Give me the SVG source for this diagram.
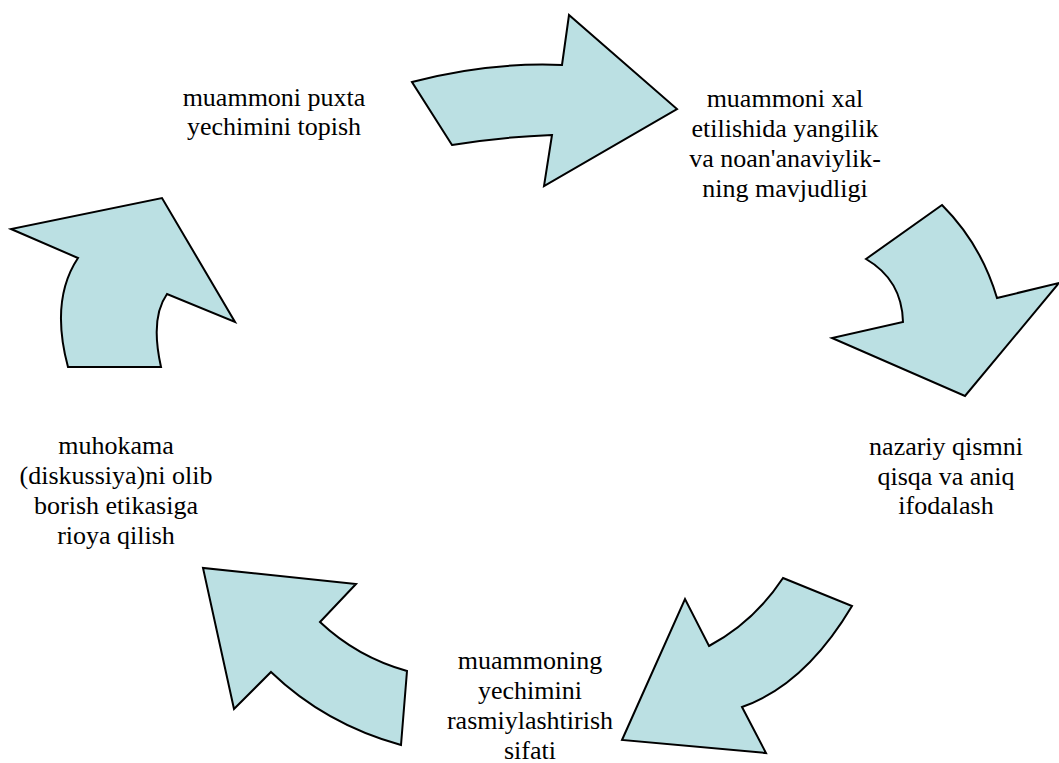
<svg xmlns="http://www.w3.org/2000/svg" width="1059" height="763" viewBox="0 0 1059 763">
<style>
.arrow{fill:#BBE0E3;stroke:#000;stroke-width:2;stroke-linejoin:miter}
.lbl{font-family:'Liberation Serif','Times New Roman',serif;font-size:26px;fill:#000;text-anchor:middle}
</style>
<rect width="1059" height="763" fill="#fff"/>
<g id="connectors">
<path id="arrow-top" class="arrow" d="M412,82 Q487,62 562,65 L569,15 L677,109 L544,186 L552,135 Q500,137 452,145 Z"/>
<path id="arrow-right" class="arrow" d="M866,259 L942,205 Q981,244 997,298 L1059,283 L965,396 L832,338 L903,322 Q902,280 866,259 Z"/>
<path id="arrow-bottomright" class="arrow" d="M783,578 L852,606 Q805,685 742,707 L766,753 L622,740 L685,599 L709,646 Q754,622 783,578 Z"/>
<path id="arrow-bottomleft" class="arrow" d="M407,671 L401,745 Q325,724 271,672 L234,709 L203,568 L356,584 L320,622 Q357,657 407,671 Z"/>
<path id="arrow-left" class="arrow" d="M161,367 L68,367 Q50,300 78,258 L11,229 L162,198 L235,322 L167,294 Q150,318 161,367 Z"/>
</g>
<g id="node-top-left">
<text class="lbl" x="274" y="106">muammoni puxta</text>
<text class="lbl" x="274" y="135">yechimini topish</text>
</g>
<g id="node-top-right">
<text class="lbl" x="785" y="107">muammoni xal</text>
<text class="lbl" x="785" y="137">etilishida yangilik</text>
<text class="lbl" x="785" y="167">va noan'anaviylik-</text>
<text class="lbl" x="785" y="197">ning mavjudligi</text>
</g>
<g id="node-right">
<text class="lbl" x="946" y="455">nazariy qismni</text>
<text class="lbl" x="946" y="485">qisqa va aniq</text>
<text class="lbl" x="946" y="514">ifodalash</text>
</g>
<g id="node-bottom">
<text class="lbl" x="530" y="669">muammoning</text>
<text class="lbl" x="530" y="699">yechimini</text>
<text class="lbl" x="530" y="729">rasmiylashtirish</text>
<text class="lbl" x="530" y="759">sifati</text>
</g>
<g id="node-left">
<text class="lbl" x="116" y="454">muhokama</text>
<text class="lbl" x="116" y="484">(diskussiya)ni olib</text>
<text class="lbl" x="116" y="514">borish etikasiga</text>
<text class="lbl" x="116" y="544">rioya qilish</text>
</g>
</svg>
